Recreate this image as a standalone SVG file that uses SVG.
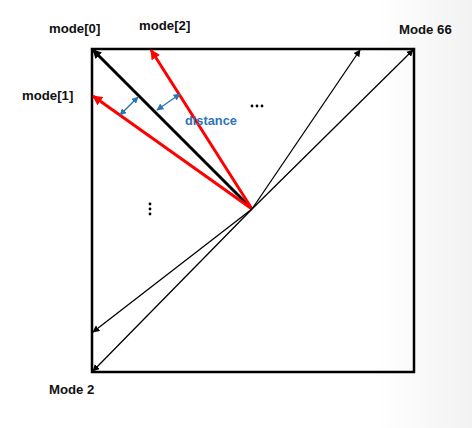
<svg xmlns="http://www.w3.org/2000/svg" width="472" height="428" viewBox="0 0 472 428">
<style>
.lbl{font-family:"Liberation Sans",Arial,sans-serif;font-weight:bold;font-size:13.2px;fill:#111}
.dist{font-family:"Liberation Sans",Arial,sans-serif;font-weight:bold;font-size:12.8px;fill:#2E75B6}
.thin{stroke:#000;stroke-width:1.3;fill:none;marker-end:url(#ak)}
.thick{stroke:#000;stroke-width:3;fill:none;marker-end:url(#akb)}
.red{stroke:#f00;stroke-width:3;fill:none;marker-end:url(#ar)}
.blue{stroke:#2E75B6;stroke-width:1.5;fill:none;marker-start:url(#ab);marker-end:url(#ab)}
</style>
<defs>
<marker id="ak" viewBox="0 0 10 10" refX="9" refY="5" markerWidth="7" markerHeight="7" orient="auto-start-reverse" markerUnits="userSpaceOnUse"><path d="M0,0 L10,5 L0,10 Z" fill="#000"/></marker>
<marker id="akb" viewBox="0 0 10 10" refX="9" refY="5" markerWidth="9" markerHeight="9" orient="auto-start-reverse" markerUnits="userSpaceOnUse"><path d="M0,0 L10,5 L0,10 Z" fill="#000"/></marker>
<marker id="ar" viewBox="0 0 10 10" refX="9" refY="5" markerWidth="10" markerHeight="10" orient="auto-start-reverse" markerUnits="userSpaceOnUse"><path d="M0,0 L10,5 L0,10 Z" fill="#f00"/></marker>
<marker id="ab" viewBox="0 0 10 10" refX="9" refY="5" markerWidth="7" markerHeight="7" orient="auto-start-reverse" markerUnits="userSpaceOnUse"><path d="M0,0 L10,5 L0,10 Z" fill="#2E75B6"/></marker>
<linearGradient id="bg" x1="0" y1="0" x2="1" y2="0">
<stop offset="0.8" stop-color="#fff"/><stop offset="1" stop-color="#f2f2f2"/>
</linearGradient>
</defs>
<rect x="0" y="0" width="472" height="428" fill="url(#bg)"/>
<g id="box"><rect x="92" y="49" width="322" height="323" fill="none" stroke="#000" stroke-width="2.5"/></g>
<g id="connectors">
<line class="thick" x1="252" y1="209" x2="93" y2="50"/>
<line class="red" x1="252" y1="209" x2="151" y2="50"/>
<line class="red" x1="252" y1="209" x2="93" y2="96"/>
<line class="thin" x1="252" y1="209" x2="360" y2="50"/>
<line class="thin" x1="252" y1="209" x2="413" y2="50"/>
<line class="thin" x1="252" y1="209" x2="93" y2="332"/>
<line class="thin" x1="252" y1="209" x2="93" y2="371"/>
<line class="blue" x1="120" y1="115" x2="138" y2="97"/>
<line class="blue" x1="157" y1="110" x2="180" y2="94"/>
</g>
<g id="labels">
<text class="lbl" x="49" y="33">mode[0]</text>
<text class="lbl" x="139" y="30">mode[2]</text>
<text class="lbl" x="22" y="100">mode[1]</text>
<text class="lbl" x="399" y="34">Mode 66</text>
<text class="lbl" x="49" y="394">Mode 2</text>
<text class="dist" x="185" y="125">distance</text>
</g>
<g id="dots" fill="#000">
<circle cx="252" cy="106" r="1.4"/><circle cx="257" cy="106" r="1.4"/><circle cx="262" cy="106" r="1.4"/>
<circle cx="150" cy="204" r="1.4"/><circle cx="150" cy="209" r="1.4"/><circle cx="150" cy="214" r="1.4"/>
</g>
</svg>
